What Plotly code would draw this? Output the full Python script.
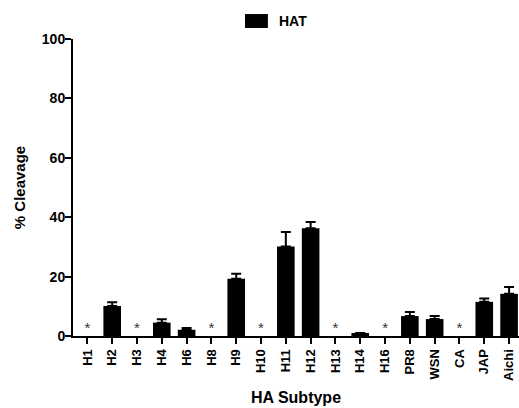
import plotly.graph_objects as go

categories = ["H1", "H2", "H3", "H4", "H6", "H8", "H9", "H10", "H11", "H12",
              "H13", "H14", "H16", "PR8", "WSN", "CA", "JAP", "Aichi"]
cleavage = [None, 10.1, None, 4.5, 2.1, None, 19.3, None, 30.1, 36.3,
            None, 1.0, None, 6.7, 5.7, None, 11.5, 14.2]
error_up = [None, 1.3, None, 1.1, 0.6, None, 1.7, None, 4.9, 2.1,
            None, 0, None, 1.4, 1.0, None, 1.1, 2.3]
error_down = [None if e is None else 0 for e in error_up]
not_detected = ["H1", "H3", "H8", "H10", "H13", "H16", "CA"]
star_level = 2.4

FONT = "Liberation Sans, Arial, Helvetica, sans-serif"

fig = go.Figure()
fig.add_trace(go.Bar(
    x=categories, y=cleavage, width=0.71,
    marker=dict(color="black", line=dict(width=0)),
    error_y=dict(type="data", array=error_up, arrayminus=error_down,
                 symmetric=False, color="black", thickness=2, width=5),
    name="HAT", showlegend=False,
))
fig.add_trace(go.Scatter(
    x=not_detected, y=[star_level] * len(not_detected), mode="text",
    text=["*"] * len(not_detected), textposition="middle center",
    textfont=dict(family=FONT, size=15, color="#333"), showlegend=False,
    hoverinfo="skip",
))

# legend swatch + label
fig.add_shape(type="rect", xref="paper", yref="paper",
              x0=0.3857, x1=0.437, y0=1.037, y1=1.084,
              fillcolor="black", line=dict(width=0))
fig.add_annotation(text="HAT", xref="paper", yref="paper", x=0.457, y=1.061,
                   xanchor="left", yanchor="middle", showarrow=False,
                   font=dict(family=FONT, size=14, color="black", weight="bold"))

fig.update_layout(
    width=519, height=408,
    margin=dict(l=73, r=0, t=39, b=72),
    paper_bgcolor="white", plot_bgcolor="white",
    bargap=0.29,
    font=dict(family=FONT, color="black"),
)
fig.update_xaxes(
    range=[-0.58, 17.4], showgrid=False, zeroline=False,
    showline=True, linecolor="black", linewidth=2,
    ticks="outside", ticklen=6, tickwidth=2, tickcolor="black",
    tickangle=-90, tickfont=dict(family=FONT, size=13, weight="bold"),
    title=dict(text="HA Subtype", font=dict(family=FONT, size=16, weight="bold"),
               standoff=12),
    automargin=False,
)
fig.update_yaxes(
    range=[0, 100], dtick=20, showgrid=False, zeroline=False,
    showline=True, linecolor="black", linewidth=2,
    ticks="outside", ticklen=6, tickwidth=2, tickcolor="black",
    ticklabelstandoff=-3,
    tickfont=dict(family=FONT, size=14, weight="bold"),
    title=dict(text="% Cleavage", font=dict(family=FONT, size=15, weight="bold"),
               standoff=13),
    automargin=False,
)
fig.write_html("out.html", config={"displayModeBar": False},
               post_script="document.body.style.margin='0';")
